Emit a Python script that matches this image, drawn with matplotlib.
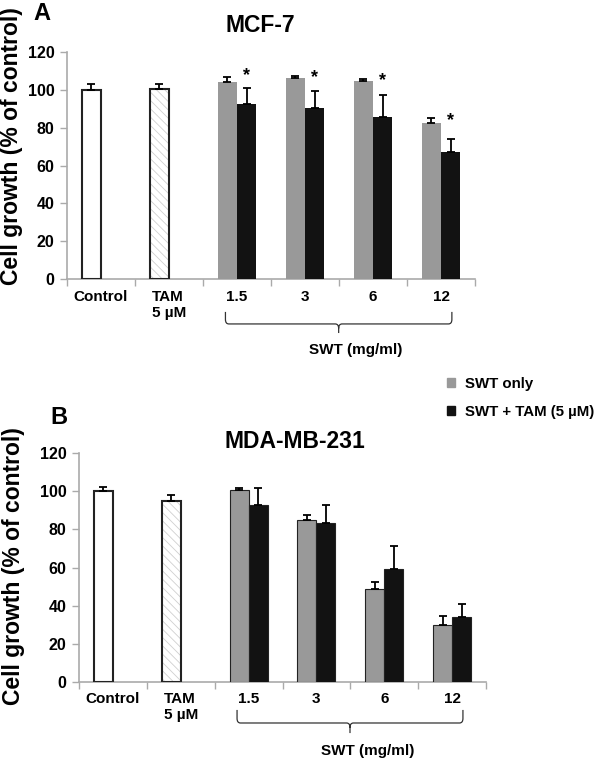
import numpy as np
import matplotlib
matplotlib.use("Agg")
import matplotlib.pyplot as plt
from matplotlib.path import Path
from matplotlib.patches import PathPatch, Patch
from matplotlib.transforms import blended_transform_factory

plt.rcParams['font.family'] = ['Liberation Sans', 'DejaVu Sans']
plt.rcParams['font.weight'] = 'bold'
plt.rcParams['hatch.linewidth'] = 0.6

# categories on the x axis
categories = ['Control', 'TAM\n5 µM', '1.5', '3', '6', '12']
swt_doses = ['1.5', '3', '6', '12']

# panel A: MCF-7
a_control, a_control_err = 100, 3
a_tam, a_tam_err = 100.5, 2.5
a_swt = [104, 106.3, 104.8, 82.5]
a_swt_err = [3, 1, 1, 2.7]
a_swt_tam = [92.5, 90.5, 85.7, 67.3]
a_swt_tam_err = [8.5, 9, 11.7, 6.7]
a_stars = [107.5, 106.5, 105, 84]

# panel B: MDA-MB-231
b_control, b_control_err = 100, 2
b_tam, b_tam_err = 94.8, 3
b_swt = [100.4, 85.1, 48.9, 30]
b_swt_err = [1, 2.5, 3.5, 4.5]
b_swt_tam = [92.5, 83.5, 59.4, 34]
b_swt_tam_err = [9, 9, 12, 7]

GRAY = '#999999'
BLACK = '#121212'
SPINE = '#aaaaaa'
w = 0.28

fig = plt.figure(figsize=(6, 7.58), dpi=100)
axA = fig.add_axes([67 / 600, 1 - 279 / 758, 408 / 600, 227 / 758])
axB = fig.add_axes([79 / 600, 1 - 682 / 758, 407 / 600, 229 / 758])


def brace(ax, x0, x1, y_top, y_line, y_tip, rx=0.05, ry=0.02):
    tr = blended_transform_factory(ax.transData, ax.transAxes)
    xm = (x0 + x1) / 2
    verts = [(x0, y_top), (x0, y_line + ry), (x0, y_line), (x0 + rx, y_line),
             (xm - rx, y_line), (xm, y_line), (xm, y_line - ry), (xm, y_tip),
             (xm, y_line - ry), (xm, y_line), (xm + rx, y_line),
             (x1 - rx, y_line), (x1, y_line), (x1, y_line + ry), (x1, y_top)]
    codes = [Path.MOVETO, Path.LINETO, Path.CURVE3, Path.CURVE3,
             Path.LINETO, Path.CURVE3, Path.CURVE3, Path.LINETO,
             Path.MOVETO, Path.CURVE3, Path.CURVE3,
             Path.LINETO, Path.CURVE3, Path.CURVE3, Path.LINETO]
    ax.add_patch(PathPatch(Path(verts, codes), transform=tr, fill=False,
                           edgecolor='#333333', lw=0.9, clip_on=False))


def panel(ax, control, control_err, tam, tam_err, swt, swt_err, swt_tam, swt_tam_err,
          edge, lab_pad, br):
    ekw = dict(ecolor='black', elinewidth=1.3, capsize=3, capthick=1.3)
    # control and tamoxifen bars sit in the left slot of their category
    ax.bar(0 - w / 2, control, w, color='white', edgecolor='#222222', lw=1.5,
           yerr=[[0], [control_err]], error_kw=ekw, zorder=3)
    ax.bar(1 - w / 2, tam, w, color='white', edgecolor='#d0d0d0', lw=0,
           hatch='\\\\\\\\', zorder=3)
    ax.bar(1 - w / 2, tam, w, fill=False, edgecolor='#222222', lw=1.5,
           yerr=[[0], [tam_err]], error_kw=ekw, zorder=4)
    x = np.arange(2, 6)
    lw = 0.8 if edge != 'none' else 0
    ax.bar(x - w / 2, swt, w, color=GRAY, edgecolor=edge, lw=lw,
           yerr=[np.zeros(4), swt_err], error_kw=ekw, zorder=3)
    ax.bar(x + w / 2, swt_tam, w, color=BLACK, edgecolor=edge, lw=lw,
           yerr=[np.zeros(4), swt_tam_err], error_kw=ekw, zorder=3)

    ax.set_xlim(-0.5, 5.5)
    ax.set_ylim(0, 120)
    ax.set_yticks(np.arange(0, 121, 20))
    ax.set_xticks(np.arange(-0.5, 6, 1))
    ax.set_xticklabels([])
    ax.set_xticks(np.arange(6), minor=True)
    ax.set_xticklabels(categories, minor=True, fontsize=11, fontweight='bold',
                       va='top', multialignment='left')
    ax.tick_params(axis='x', which='major', direction='out', length=5, color=SPINE, width=1)
    ax.tick_params(axis='x', which='minor', length=0, pad=lab_pad)
    ax.tick_params(axis='y', direction='out', length=5, color=SPINE, width=1, labelsize=11.5, pad=4)
    for t in ax.get_yticklabels():
        t.set_fontweight('bold')
    for s in ['top', 'right']:
        ax.spines[s].set_visible(False)
    for s in ['left', 'bottom']:
        ax.spines[s].set_color(SPINE)
        ax.spines[s].set_linewidth(1.2)
    ax.set_ylabel('Cell growth (% of control)', fontsize=16.5, fontweight='bold')

    brace(ax, 1.83, 5.16, *br[:3])
    ax.text(3.75, br[3], 'SWT (mg/ml)', transform=blended_transform_factory(ax.transData, ax.transAxes),
            ha='center', va='center', fontsize=11, fontweight='bold')


panel(axA, a_control, a_control_err, a_tam, a_tam_err, a_swt, a_swt_err, a_swt_tam,
      a_swt_tam_err, 'none', 8, (-0.145, -0.198, -0.238, -0.313))
panel(axB, b_control, b_control_err, b_tam, b_tam_err, b_swt, b_swt_err, b_swt_tam,
      b_swt_tam_err, '#222222', 7, (-0.122, -0.179, -0.223, -0.303))

for i, s in enumerate(a_stars):
    axA.text(2 + i + w / 2, s, '*', ha='center', va='center', fontsize=13, fontweight='bold')

axA.yaxis.set_label_coords(-0.108, 0.586)
axB.yaxis.set_label_coords(-0.133, 0.507)

fig.text(260 / 600, 1 - 25 / 758, 'MCF-7', ha='center', va='center', fontsize=16.5, fontweight='bold')
fig.text(295 / 600, 1 - 442 / 758, 'MDA-MB-231', ha='center', va='center', fontsize=16.5, fontweight='bold')
fig.text(33 / 600, 1 - 13 / 758, 'A', ha='left', va='center', fontsize=17, fontweight='bold')
fig.text(50 / 600, 1 - 418 / 758, 'B', ha='left', va='center', fontsize=17, fontweight='bold')

handles = [Patch(color=GRAY, label='SWT only'), Patch(color=BLACK, label='SWT + TAM (5 µM)')]
fig.legend(handles=handles, loc='upper left', bbox_to_anchor=(447 / 600, 1 - 377 / 758),
           frameon=False, handlelength=0.55, handleheight=0.55, borderpad=0,
           borderaxespad=0, handletextpad=0.65, labelspacing=0.9,
           prop={'weight': 'bold', 'size': 10.8})

fig.savefig('out.png', dpi=100)
